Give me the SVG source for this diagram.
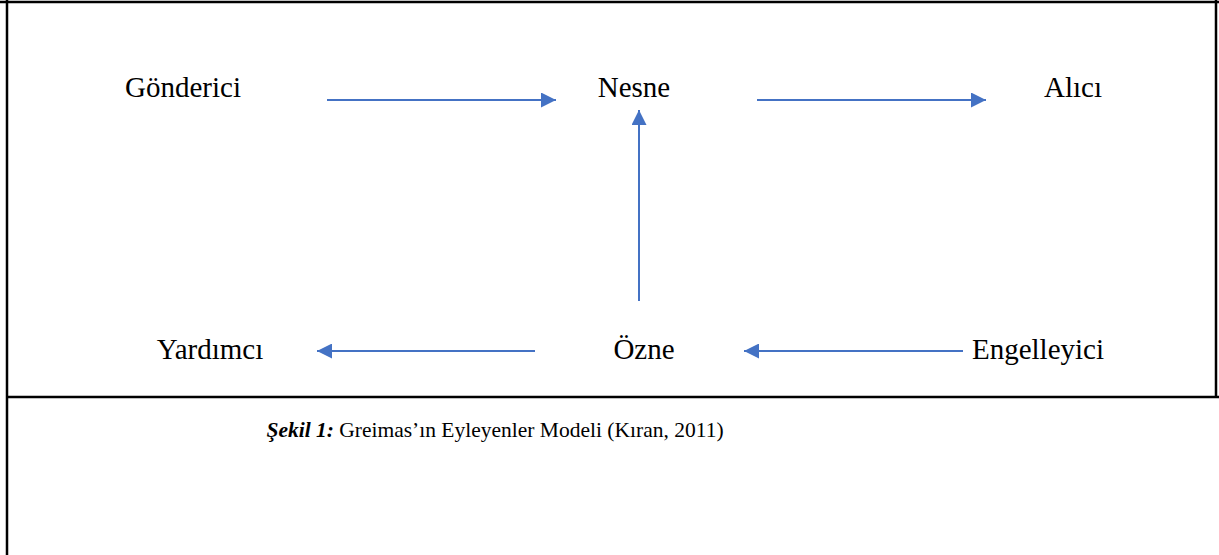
<svg xmlns="http://www.w3.org/2000/svg" width="1219" height="555" viewBox="0 0 1219 555">
  <defs>
    <style>
      .frame { stroke: #000; stroke-width: 2.5; fill: none; }
      .label { font-family: "Liberation Serif", "Times New Roman", serif; font-size: 29px; fill: #000; }
      .link { stroke: #4472C4; stroke-width: 2; fill: none; marker-end: url(#head); }
      .caption { font-family: "Liberation Serif", "Times New Roman", serif; font-size: 21.5px; fill: #000; }
    </style>
    <marker id="head" viewBox="0 0 10 10" refX="10" refY="5" markerWidth="7.5" markerHeight="7.5" markerUnits="strokeWidth" orient="auto">
      <path d="M0,0 L10,5 L0,10 Z" fill="#4472C4"/>
    </marker>
  </defs>
  <rect width="1219" height="555" fill="#fff"/>

  <!-- table frame around the figure -->
  <g id="frame">
    <line class="frame" x1="0" y1="2" x2="1219" y2="2"/>
    <line class="frame" x1="7" y1="0" x2="7" y2="555"/>
    <line class="frame" x1="1216" y1="0" x2="1216" y2="397"/>
    <line class="frame" x1="7" y1="397" x2="1219" y2="397"/>
  </g>

  <!-- actants -->
  <g id="gonderici"><text class="label" x="183" y="97" text-anchor="middle">Gönderici</text></g>
  <g id="nesne"><text class="label" x="634" y="97" text-anchor="middle">Nesne</text></g>
  <g id="alici"><text class="label" x="1073" y="97" text-anchor="middle">Alıcı</text></g>
  <g id="yardimci"><text class="label" x="210" y="359" text-anchor="middle">Yardımcı</text></g>
  <g id="ozne"><text class="label" x="644" y="359" text-anchor="middle">Özne</text></g>
  <g id="engelleyici"><text class="label" x="1038" y="359" text-anchor="middle">Engelleyici</text></g>

  <!-- connectors -->
  <g id="connectors">
    <line class="link" x1="327" y1="100" x2="556" y2="100"/>
    <line class="link" x1="757" y1="100" x2="986" y2="100"/>
    <line class="link" x1="639" y1="301" x2="639" y2="110"/>
    <line class="link" x1="535" y1="351" x2="317" y2="351"/>
    <line class="link" x1="963" y1="351" x2="744" y2="351"/>
  </g>

  <!-- caption -->
  <g id="caption">
    <text class="caption" x="495" y="437" text-anchor="middle"><tspan font-weight="bold" font-style="italic">Şekil 1:</tspan> Greimas’ın Eyleyenler Modeli (Kıran, 2011)</text>
  </g>
</svg>
